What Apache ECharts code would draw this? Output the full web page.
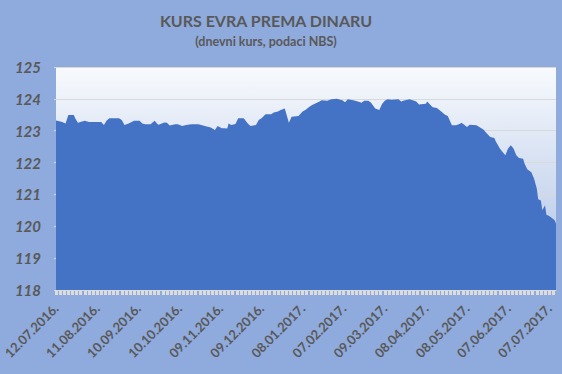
<!DOCTYPE html>
<html>
<head>
<meta charset="utf-8">
<script src="https://cdn.jsdelivr.net/npm/echarts@6/dist/echarts.min.js"></script>
<style>
html,body{margin:0;padding:0;background:#8faadc;}
#chart{width:562px;height:374px;}
</style>
</head>
<body>
<div id="chart"></div>
<script>
// Tick labels every 30 days (day index 0, 30, 60, ...)
const tickLabels = ['12.07.2016.','11.08.2016.','10.09.2016.','10.10.2016.','09.11.2016.','09.12.2016.',
  '08.01.2017.','07.02.2017.','09.03.2017.','08.04.2017.','08.05.2017.','07.06.2017.','07.07.2017.'];
const dayCount = 366; // 12.07.2016 .. 12.07.2017, daily
// Readings: day index and EUR/RSD rate
const dayIdx = [0,4,7,9,13,14,16,21,24,31,33,35,37,39,46,48,50,53,57,61,63,65,69,72,74,75,79,81,83,87,89,92,95,99,104,106,110,113,116,118,121,123,
  125,126,128,131,133,137,140,142,146,148,150,153,157,159,162,164,167,170,172,177,180,182,185,187,192,194,198,201,205,209,211,213,217,221,223,225,228,230,233,236,238,240,
  242,245,250,252,254,258,261,263,265,268,270,271,273,275,278,281,284,286,289,292,295,296,298,300,302,307,309,312,314,317,320,321,324,326,328,330,332,334,336,338,341,342,344,347,349,351,352,354,355,357,358,360,362,364,365];
const rates = [123.32,123.28,123.23,123.49,123.49,123.39,123.25,123.31,123.27,123.27,123.27,123.18,123.32,123.39,123.39,123.34,123.18,123.23,123.31,123.31,123.23,123.20,123.20,123.31,123.21,123.19,123.26,123.25,123.16,123.20,123.20,123.15,123.18,123.20,123.20,123.18,123.13,123.10,123.02,123.15,123.08,123.08,
  123.07,123.23,123.18,123.21,123.39,123.39,123.23,123.15,123.18,123.34,123.39,123.52,123.52,123.57,123.60,123.65,123.70,123.25,123.44,123.46,123.60,123.65,123.75,123.81,123.91,123.96,123.94,123.99,124.00,123.96,123.89,123.99,123.96,123.91,123.88,123.94,123.94,123.88,123.70,123.65,123.84,123.94,
  123.99,123.97,123.99,123.92,123.95,123.99,123.95,123.92,123.82,123.84,123.85,123.92,123.82,123.74,123.71,123.61,123.50,123.46,123.17,123.17,123.22,123.25,123.19,123.12,123.19,123.17,123.12,123.04,122.94,122.80,122.77,122.67,122.44,122.33,122.23,122.44,122.54,122.44,122.23,122.14,122.12,121.97,121.79,121.70,121.49,121.18,120.85,120.81,120.50,120.66,120.36,120.32,120.26,120.19,120.08];
const yTicks = [118,119,120,121,122,123,124,125];

const categories = Array.from({length: dayCount}, (_, i) => i);
const seriesData = new Array(dayCount).fill(null);
dayIdx.forEach((d, i) => { seriesData[d] = rates[i]; });

const textColor = '#595959';
const font = 'Lato, "Liberation Sans", sans-serif';

const chart = echarts.init(document.getElementById('chart'), null, {renderer: 'svg'});
chart.setOption({
  backgroundColor: '#8faadc',
  animation: false,
  graphic: [
    {type: 'text', x: 266, y: 20, style: {text: 'KURS EVRA PREMA DINARU', fill: textColor, font: 'bold 16px ' + font, textAlign: 'center', textVerticalAlign: 'middle'}},
    {type: 'text', x: 266, y: 41, style: {text: '(dnevni kurs, podaci NBS)', fill: textColor, font: 'bold 12.5px ' + font, textAlign: 'center', textVerticalAlign: 'middle'}}
  ],
  grid: {left: 56, top: 67, right: 6, bottom: 84, containLabel: false, outerBoundsMode: 'none', show: true, borderWidth: 0,
    backgroundColor: new echarts.graphic.LinearGradient(0, 0, 0, 1, [
      {offset: 0, color: '#f8fafd'}, {offset: 1, color: '#abc0e4'}
    ])},
  xAxis: {
    type: 'category', data: categories, boundaryGap: false,
    axisLine: {show: true, lineStyle: {color: '#d9d9d9', width: 1}},
    axisTick: {show: true, interval: 2, length: 5, lineStyle: {color: '#dcdcdc', width: 3}},
    axisLabel: {interval: 29, rotate: 45, margin: 16, color: textColor, fontWeight: 'bold', fontSize: 13, fontFamily: font,
      formatter: v => { const n = Number(v); return n % 30 === 0 ? (tickLabels[n / 30] || '') : ''; }},
    splitLine: {show: false}
  },
  yAxis: {
    type: 'value', min: yTicks[0], max: yTicks[yTicks.length - 1], interval: 1,
    axisLine: {show: false},
    axisTick: {show: true, length: 2, lineStyle: {color: '#d9d9d9'}},
    axisLabel: {margin: 15, color: textColor, fontWeight: 'bold', fontStyle: 'italic', fontSize: 15, fontFamily: font},
    splitLine: {show: true, lineStyle: {color: '#d9d9d9', width: 1}}
  },
  series: [{
    type: 'line', data: seriesData, connectNulls: true, symbol: 'none',
    lineStyle: {width: 0, color: '#4472c4'},
    areaStyle: {color: '#4472c4', opacity: 1},
    z: 3
  }]
});
</script>
</body>
</html>
